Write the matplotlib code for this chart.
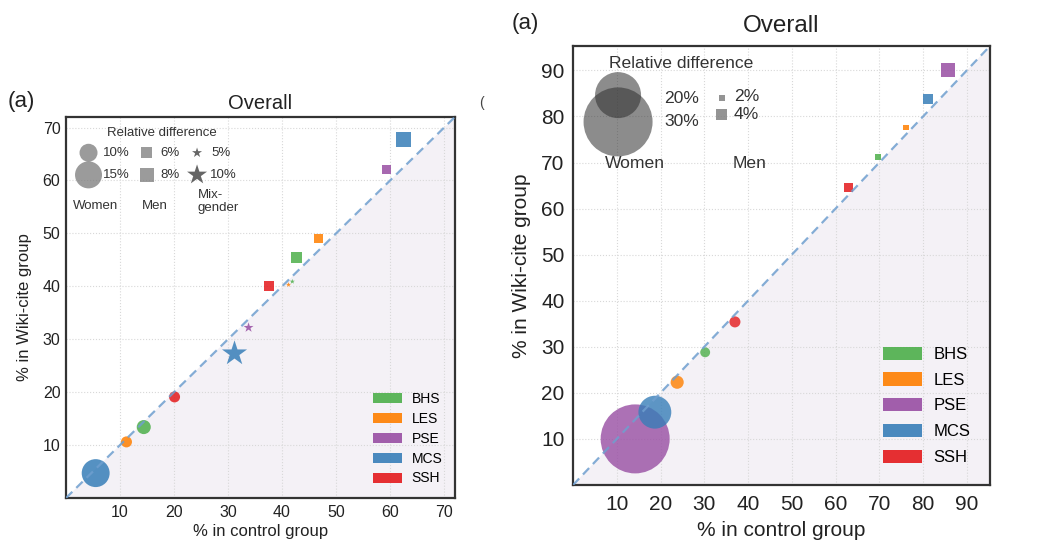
import matplotlib
matplotlib.use('Agg')
import matplotlib.pyplot as plt
from matplotlib.patches import Patch, Polygon

plt.rcParams['font.family'] = ['Liberation Sans', 'DejaVu Sans']

fields = ['BHS', 'LES', 'PSE', 'MCS', 'SSH']
field_colors = {'BHS': '#4daf4a', 'LES': '#ff7f00', 'PSE': '#984ea3',
                'MCS': '#377eb8', 'SSH': '#e41a1c'}

# ---- left panel data (% control, % wiki-cite, relative difference %)
L_women_field = ['MCS', 'LES', 'BHS', 'SSH']
L_women_x = [5.5, 11.2, 14.4, 20.1]
L_women_y = [4.7, 10.6, 13.4, 19.1]
L_women_diff = [14.7, 5.8, 7.4, 5.8]

L_men_field = ['SSH', 'BHS', 'LES', 'PSE', 'MCS']
L_men_x = [37.5, 42.6, 46.7, 59.3, 62.4]
L_men_y = [40.0, 45.5, 49.0, 62.1, 67.8]
L_men_diff = [5.3, 5.8, 4.7, 4.7, 7.9]

L_mix_field = ['MCS', 'PSE', 'LES', 'BHS']
L_mix_x = [31.2, 33.8, 41.2, 41.9]
L_mix_y = [27.3, 32.2, 40.3, 40.9]
L_mix_diff = [13.9, 5.5, 2.8, 2.8]

# ---- right panel data
R_women_field = ['PSE', 'MCS', 'LES', 'BHS', 'SSH']
R_women_x = [14.2, 18.7, 23.8, 30.2, 37.0]
R_women_y = [10.0, 15.8, 22.3, 28.8, 35.4]
R_women_diff = [30.0, 14.3, 5.7, 4.3, 4.8]

R_men_field = ['SSH', 'BHS', 'LES', 'MCS', 'PSE']
R_men_x = [62.9, 69.7, 76.1, 81.1, 85.7]
R_men_y = [64.6, 71.2, 77.6, 83.7, 90.0]
R_men_diff = [3.4, 2.2, 2.2, 3.7, 5.2]


def s_of(diff, px_per_pct):
    # marker diameter in pixels -> scatter area in pt^2 (dpi 100)
    return [(0.72 * px_per_pct * d) ** 2 for d in diff]


def base_axes(ax, lim, ticks, fs_tick, fs_lab):
    ax.set_xlim(0, lim)
    ax.set_ylim(0, lim)
    ax.add_patch(Polygon([[0, 0], [lim, 0], [lim, lim]], closed=True,
                         facecolor='#f4f1f6', edgecolor='none', zorder=0))
    ax.plot([0, lim], [0, lim], ls=(0, (4, 2.5)), color='#6f9fcf', lw=1.6,
            alpha=0.85, zorder=4)
    ax.set_xticks(ticks)
    ax.set_yticks(ticks)
    ax.grid(True, ls=':', color='#d8d8d8', lw=0.8, zorder=1)
    ax.set_axisbelow(True)
    ax.tick_params(length=0, labelsize=fs_tick, colors='#222222')
    for sp in ax.spines.values():
        sp.set_color('#333333')
        sp.set_linewidth(1.6)
    ax.set_xlabel('% in control group', fontsize=fs_lab, color='#222222')
    ax.set_ylabel('% in Wiki-cite group', fontsize=fs_lab, color='#222222')


def field_legend(ax, fs, hl, hh, lsp, pad):
    handles = [Patch(facecolor=field_colors[f], label=f, alpha=0.9) for f in fields]
    ax.legend(handles=handles, loc='lower right', frameon=False, fontsize=fs,
              handlelength=hl, handleheight=hh, labelspacing=lsp,
              handletextpad=0.7, borderaxespad=pad)


fig = plt.figure(figsize=(10.47, 5.40), dpi=100)

############################################################ left panel
axL = fig.add_axes([0.0630, 0.0778, 0.3715, 0.7056])
base_axes(axL, 72, range(10, 71, 10), 11.5, 12)
c = 1.9
axL.scatter(L_women_x, L_women_y, s=s_of(L_women_diff, c), marker='o',
            c=[field_colors[f] for f in L_women_field], alpha=0.85, lw=0, zorder=3)
axL.scatter(L_men_x, L_men_y, s=s_of(L_men_diff, c), marker='s',
            c=[field_colors[f] for f in L_men_field], alpha=0.85, lw=0, zorder=3)
axL.scatter(L_mix_x, L_mix_y, s=s_of(L_mix_diff, c), marker='*',
            c=[field_colors[f] for f in L_mix_field], alpha=0.85, lw=0, zorder=3)

# size legend
tr = axL.transAxes
gray = '#7a7a7a'
axL.text(0.247, 0.958, 'Relative difference', transform=tr, fontsize=9.5,
         ha='center', va='center', color='#333333')
axL.scatter([0.058, 0.058], [0.906, 0.848], s=s_of([10, 15], 1.8), marker='o',
            color=gray, alpha=0.75, lw=0, transform=tr, clip_on=False, zorder=5)
axL.scatter([0.208, 0.208], [0.906, 0.848], s=s_of([6, 8], 1.8), marker='s',
            color=gray, alpha=0.75, lw=0, transform=tr, clip_on=False, zorder=5)
axL.scatter([0.337, 0.337], [0.906, 0.848], s=s_of([5, 10], 2.1), marker='*',
            color='#555555', alpha=0.9, lw=0, transform=tr, clip_on=False, zorder=5)
for x, y, t in [(0.095, 0.906, '10%'), (0.095, 0.848, '15%'),
                (0.242, 0.906, '6%'), (0.242, 0.848, '8%'),
                (0.375, 0.906, '5%'), (0.370, 0.848, '10%')]:
    axL.text(x, y, t, transform=tr, fontsize=9.5, ha='left', va='center', color='#333333')
axL.text(0.075, 0.766, 'Women', transform=tr, fontsize=9.5, ha='center', va='center', color='#333333')
axL.text(0.229, 0.766, 'Men', transform=tr, fontsize=9.5, ha='center', va='center', color='#333333')
axL.text(0.339, 0.777, 'Mix-\ngender', transform=tr, fontsize=9.5, ha='left', va='center',
         color='#333333', linespacing=1.1)

field_legend(axL, 10, 2.1, 0.75, 0.42, 0.5)
axL.set_title('Overall', fontsize=14.5, pad=5.5, color='#222222')
axL.xaxis.set_label_coords(0.5, -0.068)
axL.yaxis.set_label_coords(-0.088, 0.5)
axL.tick_params(axis='y', pad=4)
axL.tick_params(axis='x', pad=5)
fig.text(8 / 1047, 1 - 102 / 540, '(a)', fontsize=16, ha='left', va='center', color='#222222')
fig.text(481 / 1047, 1 - 103 / 540, '(', fontsize=10, ha='center', va='center', color='#444444')

############################################################ right panel
axR = fig.add_axes([0.5473, 0.1019, 0.3983, 0.8130])
base_axes(axR, 95.3, range(10, 91, 10), 15, 15)
axR.scatter(R_women_x, R_women_y, s=s_of(R_women_diff, 2.3), marker='o',
            c=[field_colors[f] for f in R_women_field], alpha=0.8, lw=0, zorder=3)
axR.scatter(R_men_x, R_men_y, s=s_of(R_men_diff, 2.7), marker='s',
            c=[field_colors[f] for f in R_men_field], alpha=0.85, lw=0, zorder=3)

tr = axR.transAxes
axR.text(0.259, 0.961, 'Relative difference', transform=tr, fontsize=12.6,
         ha='center', va='center', color='#333333')
axR.scatter([0.108, 0.108], [0.827, 0.888], s=s_of([30, 20], 2.3), marker='o',
            color='#2e2e2e', alpha=0.55, lw=0, transform=tr, clip_on=False, zorder=5)
axR.scatter([0.357, 0.357], [0.881, 0.843], s=s_of([2, 4], 2.7), marker='s',
            color=gray, alpha=0.8, lw=0, transform=tr, clip_on=False, zorder=5)
for x, y, t in [(0.218, 0.881, '20%'), (0.218, 0.829, '30%'),
                (0.386, 0.885, '2%'), (0.386, 0.845, '4%')]:
    axR.text(x, y, t, transform=tr, fontsize=12.6, ha='left', va='center', color='#333333')
axR.text(0.149, 0.733, 'Women', transform=tr, fontsize=12.6, ha='center', va='center', color='#333333')
axR.text(0.424, 0.733, 'Men', transform=tr, fontsize=12.6, ha='center', va='center', color='#333333')

field_legend(axR, 12, 2.3, 0.85, 0.62, 0.8)
axR.set_title('Overall', fontsize=17.5, pad=10, color='#222222')
axR.xaxis.set_label_coords(0.5, -0.082)
axR.yaxis.set_label_coords(-0.1, 0.5)
axR.tick_params(axis='y', pad=6)
axR.tick_params(axis='x', pad=7)
fig.text(512 / 1047, 1 - 23 / 540, '(a)', fontsize=16, ha='left', va='center', color='#222222')

fig.savefig('out.png', dpi=100)
